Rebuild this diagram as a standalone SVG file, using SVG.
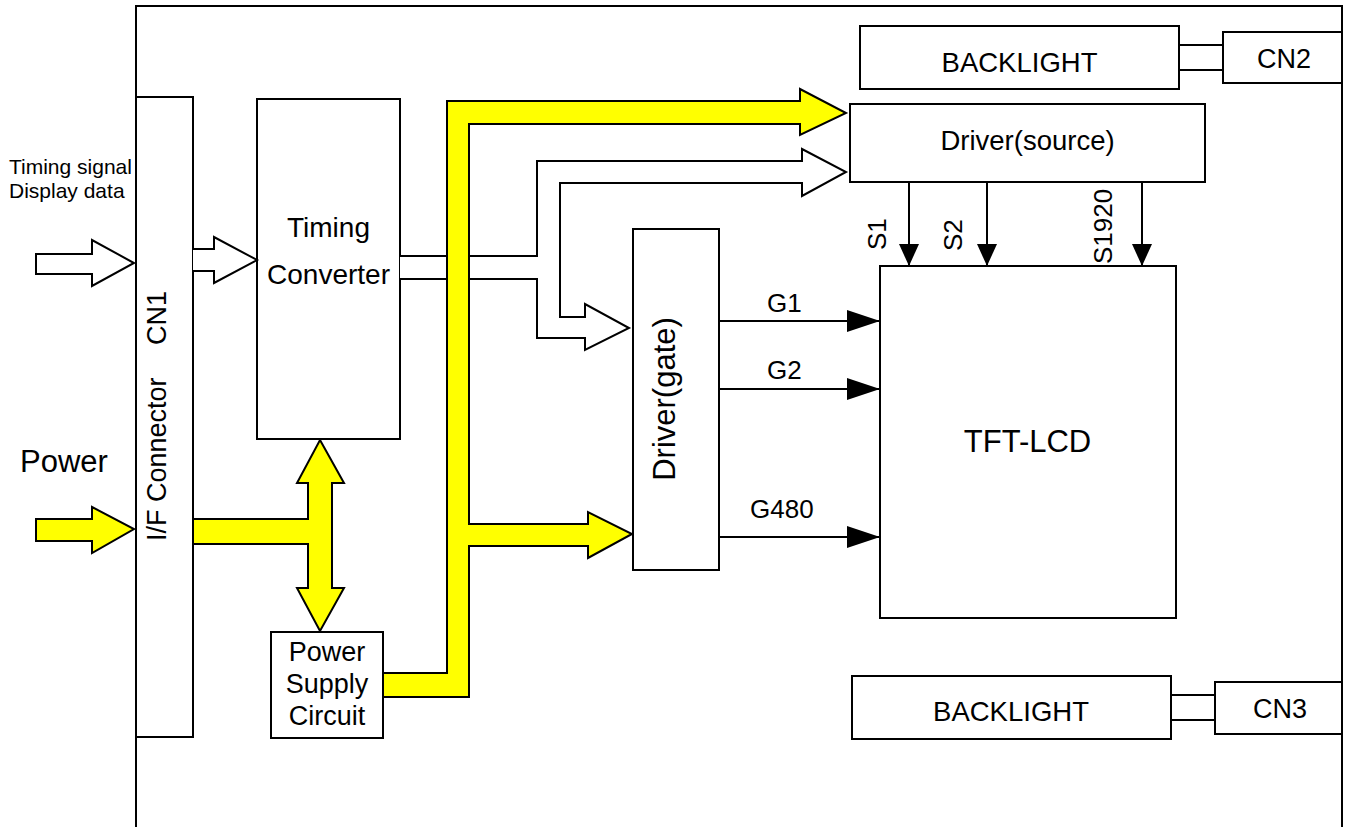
<svg xmlns="http://www.w3.org/2000/svg" width="1351" height="827" viewBox="0 0 1351 827">
<defs>
<style>
.box{fill:#fff;stroke:#000;stroke-width:2}
.ln{fill:none;stroke:#000;stroke-width:2}
.hollow{fill:#fff;stroke:#000;stroke-width:2;stroke-linejoin:miter}
.yel{fill:#ffff00;stroke:#000;stroke-width:2;stroke-linejoin:miter}
.t{font-family:"Liberation Sans",Arial,sans-serif;fill:#000}
.c{text-anchor:middle}
</style>
<marker id="ah" viewBox="0 0 33 22" refX="33" refY="11" markerWidth="33" markerHeight="22" markerUnits="userSpaceOnUse" orient="auto">
<path d="M0,0 L33,11 L0,22 Z" fill="#000"/>
</marker>
<marker id="ahs" viewBox="0 0 22 20" refX="22" refY="10" markerWidth="22" markerHeight="20" markerUnits="userSpaceOnUse" orient="auto">
<path d="M0,0 L22,10 L0,20 Z" fill="#000"/>
</marker>
</defs>
<rect width="1351" height="827" fill="#fff"/>

<g id="frame">
<path class="ln" d="M136,827 V6 H1342 V827"/>
</g>

<g id="input-labels">
<text class="t" x="9" y="174" font-size="21">Timing signal</text>
<text class="t" x="9" y="198" font-size="21">Display data</text>
<text class="t" x="20" y="472" font-size="31">Power</text>
</g>

<g id="cn1">
<rect class="box" x="136" y="97" width="57" height="640"/>
<text class="t" font-size="27" transform="translate(166,541) rotate(-90)">I/F Connector<tspan x="196">CN1</tspan></text>
</g>

<g id="timing-converter">
<rect class="box" x="257" y="99" width="143" height="340"/>
<text class="t c" x="328.5" y="237" font-size="28">Timing</text>
<text class="t c" x="328.5" y="284" font-size="28">Converter</text>
</g>

<g id="power-supply">
<rect class="box" x="271" y="632" width="112" height="106"/>
<text class="t c" x="327" y="661" font-size="27">Power</text>
<text class="t c" x="327" y="693" font-size="27">Supply</text>
<text class="t c" x="327" y="725" font-size="27">Circuit</text>
</g>

<g id="driver-gate">
<rect class="box" x="633" y="229" width="86" height="341"/>
<text class="t c" font-size="31" transform="translate(675,399) rotate(-90)">Driver(gate)</text>
</g>

<g id="driver-source">
<rect class="box" x="850" y="104" width="355" height="78"/>
<text class="t c" x="1027.5" y="150" font-size="27.5">Driver(source)</text>
</g>

<g id="tft-lcd">
<rect class="box" x="880" y="266" width="296" height="352"/>
<text class="t c" x="1027.5" y="452" font-size="31">TFT-LCD</text>
</g>

<g id="backlight-top">
<rect class="box" x="860" y="26" width="319" height="63"/>
<text class="t c" x="1019.5" y="72" font-size="27.5">BACKLIGHT</text>
</g>

<g id="cn2">
<rect class="box" x="1223" y="32" width="119" height="51"/>
<text class="t c" x="1284" y="68" font-size="27">CN2</text>
</g>

<g id="backlight-bottom">
<rect class="box" x="852" y="676" width="319" height="63"/>
<text class="t c" x="1011" y="721" font-size="27.5">BACKLIGHT</text>
</g>

<g id="cn3">
<rect class="box" x="1215" y="682" width="127" height="52"/>
<text class="t c" x="1280" y="718" font-size="27">CN3</text>
</g>

<g id="connectors">
<polygon class="hollow" points="36,254 92,254 92,240 134,263 92,286 92,274 36,274"/>
<polyline class="hollow" points="193,249 214,249 214,237 257,260 214,283 214,271 193,271"/>
<polyline class="hollow" points="400,256 537,256 537,161 802,161 802,149 846,172 802,196 802,183 560,183 560,317 585,317 585,304 629,328 585,350 585,338 537,338 537,279 400,279"/>
<polygon class="yel" points="36,519 92,519 92,507 134,529 92,553 92,541 36,541"/>
<polygon class="yel" points="320,440 344,483 332,483 332,588 344,588 320,631 297,588 308,588 308,544 193,544 193,519 308,519 308,483 297,483"/>
<polygon class="yel" points="383,673 447,673 447,101 800,101 800,89 846,113 800,135 800,124 469,124 469,524 588,524 588,512 632,534 588,558 588,546 469,546 469,697 383,697"/>
<line class="ln" x1="1179" y1="45" x2="1223" y2="45"/>
<line class="ln" x1="1179" y1="70" x2="1223" y2="70"/>
<line class="ln" x1="1171" y1="695" x2="1215" y2="695"/>
<line class="ln" x1="1171" y1="720" x2="1215" y2="720"/>
<line class="ln" x1="909" y1="182" x2="909" y2="266" marker-end="url(#ahs)"/>
<line class="ln" x1="987" y1="182" x2="987" y2="266" marker-end="url(#ahs)"/>
<line class="ln" x1="1142" y1="182" x2="1142" y2="266" marker-end="url(#ahs)"/>
<text class="t" font-size="26" transform="translate(886,250) rotate(-90)">S1</text>
<text class="t" font-size="26" transform="translate(962,251) rotate(-90)">S2</text>
<text class="t" font-size="26" transform="translate(1112,264) rotate(-90)">S1920</text>
<line class="ln" x1="719" y1="321" x2="880" y2="321" marker-end="url(#ah)"/>
<line class="ln" x1="719" y1="389" x2="880" y2="389" marker-end="url(#ah)"/>
<line class="ln" x1="719" y1="537" x2="880" y2="537" marker-end="url(#ah)"/>
<text class="t" x="767" y="312" font-size="26">G1</text>
<text class="t" x="767" y="379" font-size="26">G2</text>
<text class="t" x="750" y="518" font-size="26">G480</text>
</g>
</svg>
